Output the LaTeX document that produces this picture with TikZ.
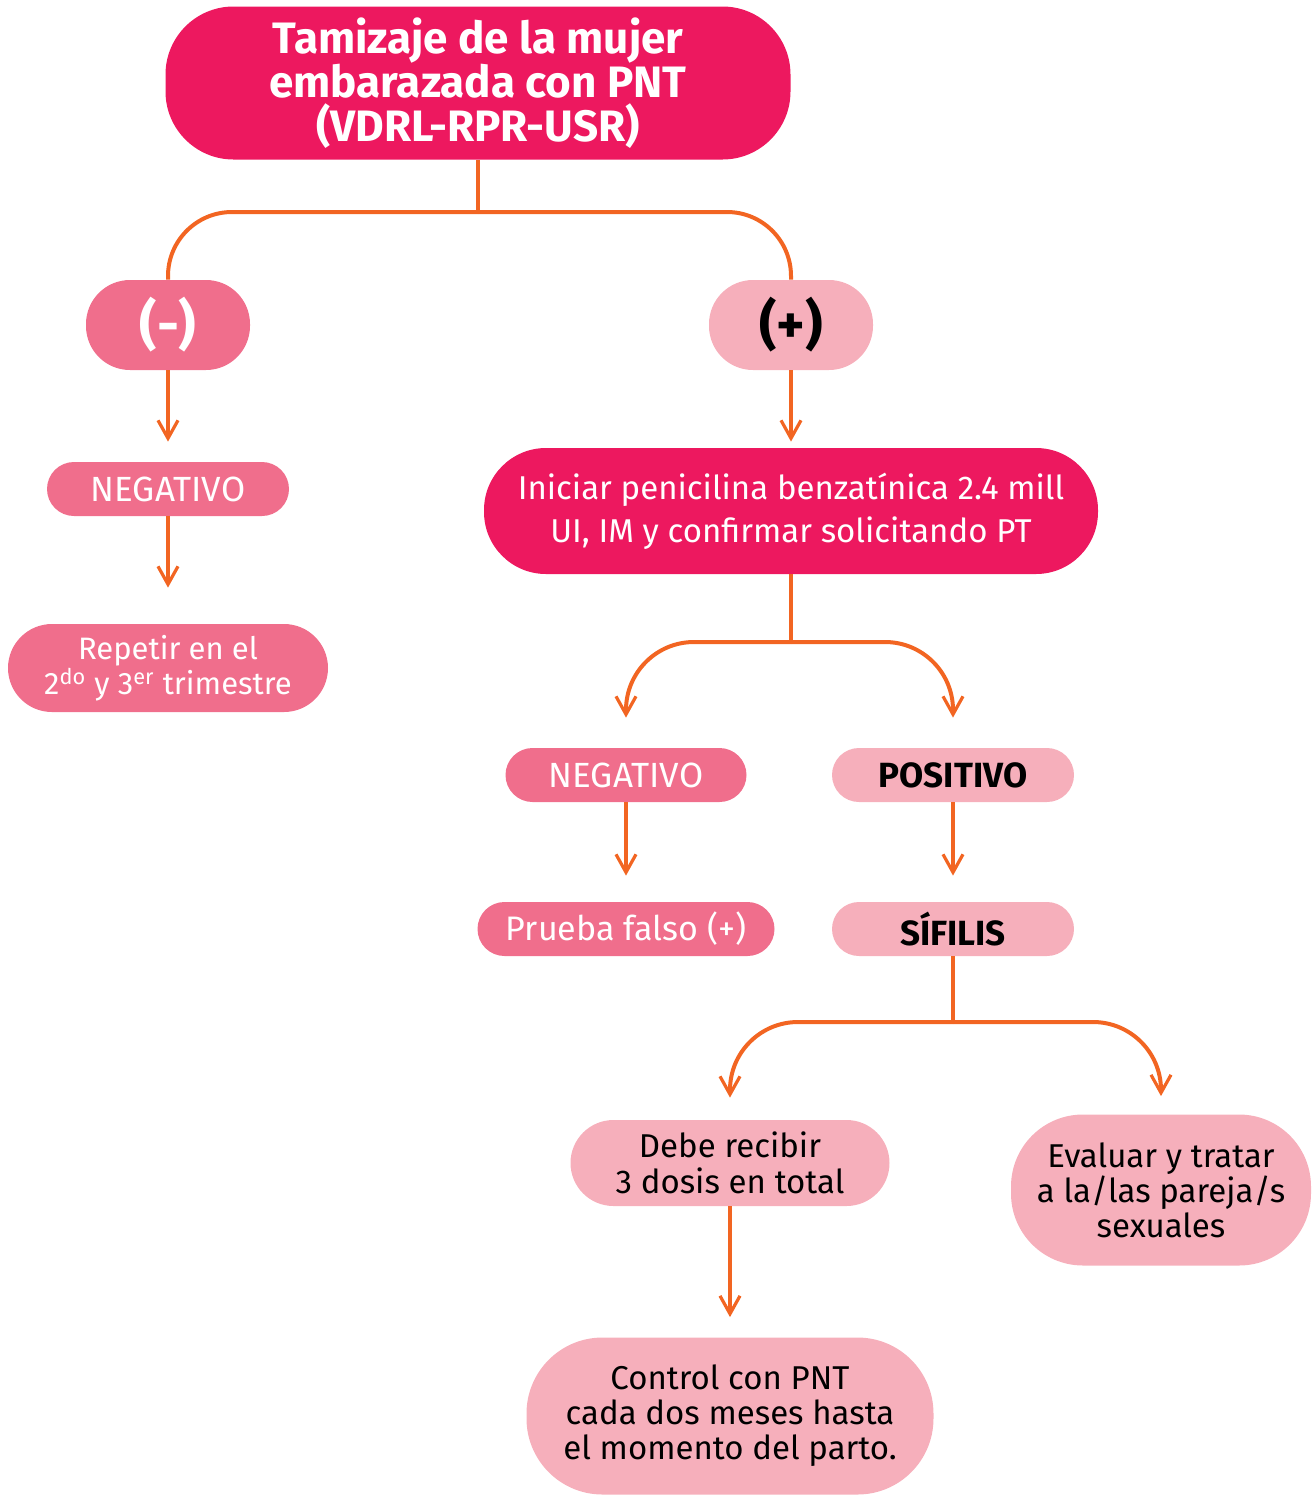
\documentclass[tikz,border=0pt]{standalone}
\usepackage{fontspec}
\setmainfont{Fira Sans}
\usetikzlibrary{arrows.meta}

\definecolor{deeppink}{HTML}{ED185F}
\definecolor{midpink}{HTML}{F06E8C}
\definecolor{lightpink}{HTML}{F6AFBB}
\definecolor{flowline}{HTML}{F26522}

\begin{document}
\begin{tikzpicture}[x = 0.5pt, y = -0.5pt,
	pill/.style = {rectangle, align = center, inner sep = 0pt, font = \fontsize{16.5}{17.5}\selectfont},
	darkpill/.style = {pill, fill = deeppink, text = white},
	midpill/.style = {pill, fill = midpink, text = white},
	lightpill/.style = {pill, fill = lightpink, text = black},
	flow/.style = {flowline, line width = 2pt},
	flowarrow/.style = {flow, -{Straight Barb[length = 9pt, width = 10pt, line width = 1.6pt]}}]
	
	\useasboundingbox (0, 0) rectangle (1312, 1495);
	
	% top box
	\node[darkpill, minimum width = 312.5pt, minimum height = 76.5pt, rounded corners = 34pt,
		font = \fontsize{22}{22}\selectfont\bfseries] (screen) at (478, 83)
		{Tamizaje de la mujer\\embarazada con PNT\\(VDRL-RPR-USR)};
	
	\node[midpill, minimum width = 82pt, minimum height = 45pt, rounded corners = 22pt,
		font = \fontsize{27}{27}\selectfont\bfseries] (minus) at (168, 325) {(-)};
	\node[lightpill, minimum width = 82pt, minimum height = 45pt, rounded corners = 22pt,
		font = \fontsize{27}{27}\selectfont\bfseries] (plus) at (791, 325) {(+)};
	
	% left branch
	\node[midpill, minimum width = 121pt, minimum height = 27pt, rounded corners = 13.5pt,
		font = \fontsize{17.5}{17.5}\selectfont] (negA) at (168, 489) {NEGATIVO};
	\node[midpill, minimum width = 160pt, minimum height = 44pt, rounded corners = 22pt,
		font = \fontsize{15.5}{16}\selectfont] (repeat) at (168, 668)
		{Repetir en el\\2\textsuperscript{do} y 3\textsuperscript{er} trimestre};
	
	% right branch
	\node[darkpill, minimum width = 307pt, minimum height = 63pt, rounded corners = 31pt,
		font = \fontsize{16.5}{21.5}\selectfont] (treat) at (791, 511)
		{Iniciar penicilina benzatínica 2.4 mill\\UI, IM y confirmar solicitando PT};
	\node[midpill, minimum width = 120.5pt, minimum height = 27pt, rounded corners = 13.5pt,
		font = \fontsize{17.5}{17.5}\selectfont] (negB) at (626, 775) {NEGATIVO};
	\node[lightpill, minimum width = 121pt, minimum height = 27pt, rounded corners = 13.5pt,
		font = \fontsize{17.5}{17.5}\selectfont\bfseries] (pos) at (953, 775) {POSITIVO};
	\node[midpill, minimum width = 148.5pt, minimum height = 27pt, rounded corners = 13.5pt,
		font = \fontsize{17}{17.5}\selectfont] (falsepos) at (626, 929) {Prueba falso (+)};
	\node[lightpill, minimum width = 121pt, minimum height = 27pt, rounded corners = 13.5pt,
		font = \fontsize{17.5}{17.5}\selectfont\bfseries] (syph) at (953, 929) {SÍFILIS};
	
	\node[lightpill, minimum width = 159.5pt, minimum height = 43pt, rounded corners = 21.5pt,
		font = \fontsize{16.5}{18}\selectfont] (doses) at (730, 1163)
		{Debe recibir\\3 dosis en total};
	\node[lightpill, minimum width = 150pt, minimum height = 75.5pt, rounded corners = 36pt] (partner) at (1161, 1190)
		{Evaluar y tratar\\a la/las pareja/s\\sexuales};
	\node[lightpill, minimum width = 203.5pt, minimum height = 78.5pt, rounded corners = 38pt] (control) at (730, 1416)
		{Control con PNT\\cada dos meses hasta\\el momento del parto.};
	
	% connectors
	\coordinate (splitA) at (478, 212);
	\draw[flow] (screen.south) -- (splitA);
	\draw[flow, rounded corners = 32pt] (splitA) -| (minus.north);
	\draw[flow, rounded corners = 32pt] (splitA) -| (plus.north);
	
	\draw[flowarrow, shorten > = 10pt] (minus.south) -- (negA.north);
	\draw[flowarrow, shorten > = 18pt] (negA.south) -- (repeat.north);
	\draw[flowarrow, shorten > = 3pt] (plus.south) -- (treat.north);
	
	\coordinate (splitB) at (791, 642);
	\draw[flow] (treat.south) -- (splitB);
	\draw[flowarrow, rounded corners = 34pt, shorten > = 15pt] (splitB) -| (negB.north);
	\draw[flowarrow, rounded corners = 34pt, shorten > = 15pt] (splitB) -| (pos.north);
	
	\draw[flowarrow, shorten > = 13pt] (negB.south) -- (falsepos.north);
	\draw[flowarrow, shorten > = 13pt] (pos.south) -- (syph.north);
	
	\coordinate (splitC) at (953, 1022);
	\draw[flow] (syph.south) -- (splitC);
	\draw[flowarrow, rounded corners = 34pt, shorten > = 11pt] (splitC) -| (doses.north);
	\draw[flowarrow, rounded corners = 34pt, shorten > = 9pt] (splitC) -| (partner.north);
	
	\draw[flowarrow, shorten > = 10pt] (doses.south) -- (control.north);
\end{tikzpicture}
\end{document}
